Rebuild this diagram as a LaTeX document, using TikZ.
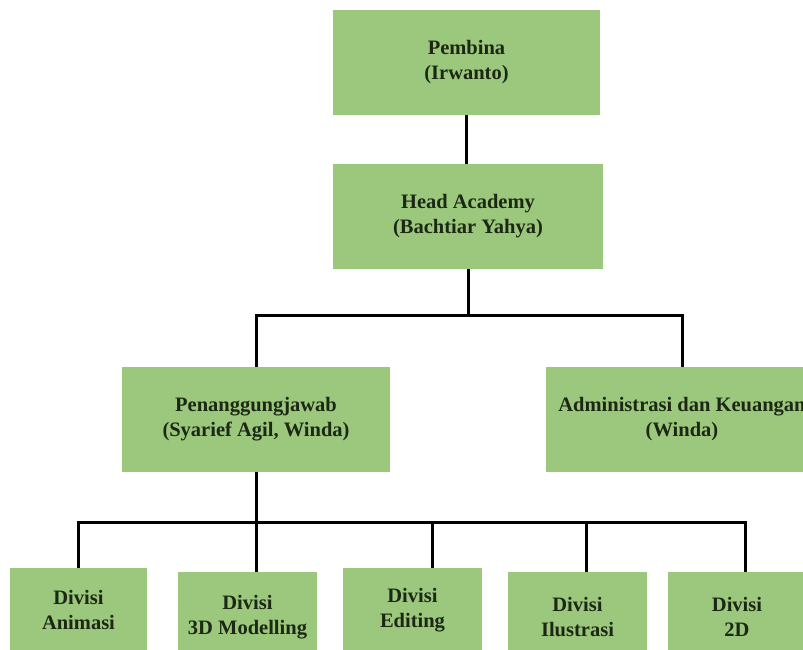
\documentclass[tikz,border=0pt]{standalone}
\usepackage{fontspec}
\setmainfont{Liberation Serif}
\definecolor{boxgreen}{RGB}{155,200,125}
\definecolor{txtdark}{RGB}{28,40,20}
\begin{document}
\begin{tikzpicture}[x=1pt,y=-1pt,
  orgbox/.style={fill=boxgreen, draw=none, align=center, text=txtdark,
    font=\bfseries\fontsize{20.5}{25}\selectfont, inner sep=0pt},
  link/.style={draw=black, line width=3pt}]
\useasboundingbox (0,0) rectangle (803,650);
\clip (0,0) rectangle (803,650);
\fill[white] (0,0) rectangle (803,650);
% boxes
\node[orgbox, minimum width=267pt, minimum height=105pt] (pembina) at (466.5,62.5) {Pembina\\(Irwanto)};
\node[orgbox, minimum width=270pt, minimum height=105pt] (head) at (468,216.5) {Head Academy\\(Bachtiar Yahya)};
\node[orgbox, minimum width=268pt, minimum height=105pt] (pj) at (256,419.5) {Penanggungjawab\\(Syarief Agil, Winda)};
\node[orgbox, minimum width=272pt, minimum height=105pt] (adm) at (682,419.5) {Administrasi dan Keuangan\\(Winda)};
\node[orgbox, minimum width=137pt, minimum height=84pt] (anim) at (78.5,610) {Divisi\\Animasi};
\node[orgbox, minimum width=139pt, minimum height=90pt] (dmod) at (247.5,617) {Divisi\\3D Modelling};
\node[orgbox, minimum width=139pt, minimum height=84pt] (edit) at (412.5,610) {Divisi\\Editing};
\node[orgbox, minimum width=139pt, minimum height=90pt] (ilus) at (577.5,617) {Divisi\\Ilustrasi};
\node[orgbox, minimum width=138pt, minimum height=90pt] (dua) at (737,617) {Divisi\\2D};
% connectors
\draw[link] (pembina.south) -- (pembina.south |- head.north);
\coordinate (busA) at ([yshift=-46pt]head.south);
\draw[link] (head.south) -- (busA);
\draw[link] (pj.north) |- (busA) -| (adm.north);
\coordinate (busB) at ([yshift=-50pt]pj.south);
\draw[link] (pj.south) -- (busB);
\coordinate (tAnim) at (anim.north);
\coordinate (tDmod) at (dmod.north -| pj.south);
\coordinate (tEdit) at ([xshift=19.5pt]edit.north);
\coordinate (tIlus) at ([xshift=8.5pt]ilus.north);
\coordinate (tDua) at ([xshift=8pt]dua.north);
\draw[link] (tAnim) |- (busB) -| (tDua);
\draw[link] (busB) -- (tDmod);
\draw[link] (tEdit) -- (tEdit |- busB);
\draw[link] (tIlus) -- (tIlus |- busB);
\end{tikzpicture}
\end{document}
